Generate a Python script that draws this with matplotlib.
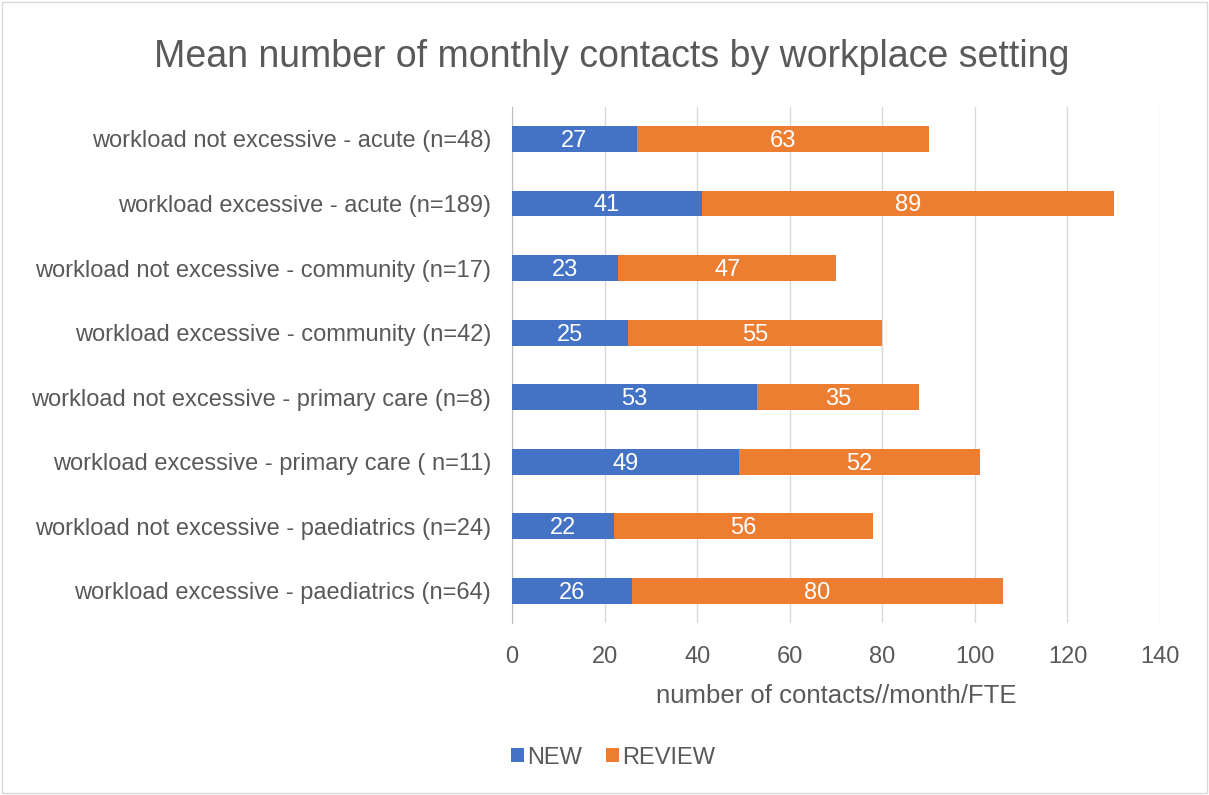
import matplotlib.pyplot as plt
from matplotlib.patches import Rectangle

plt.rcParams['font.family'] = ['Liberation Sans', 'DejaVu Sans']

categories = [
    'workload not excessive - acute (n=48)',
    'workload excessive - acute (n=189)',
    'workload not excessive - community (n=17)',
    'workload excessive - community (n=42)',
    'workload not excessive - primary care (n=8)',
    'workload excessive - primary care ( n=11)',
    'workload not excessive - paediatrics (n=24)',
    'workload excessive - paediatrics (n=64)',
]
new_vals = [27, 41, 23, 25, 53, 49, 22, 26]
review_vals = [63, 89, 47, 55, 35, 52, 56, 80]

blue = '#4472C4'
orange = '#ED7D31'
grey_txt = '#595959'

fig = plt.figure(figsize=(12.09, 7.95), dpi=100, facecolor='w')
fig.patches.append(Rectangle((0.002, 0.003), 0.996, 0.994, transform=fig.transFigure,
                             fill=False, edgecolor='#D9D9D9', linewidth=1))
ax = fig.add_axes([0.4235, 0.216, 0.536, 0.65])

ypos = list(range(len(categories)))
bh = 0.4
ax.barh(ypos, new_vals, height=bh, color=blue, label='NEW', zorder=3)
ax.barh(ypos, review_vals, left=new_vals, height=bh, color=orange, label='REVIEW', zorder=3)

for y, n, r in zip(ypos, new_vals, review_vals):
    ax.text(n / 2, y + 0.03, str(n), color='w', ha='center', va='center', fontsize=17, zorder=4)
    ax.text(n + r / 2, y + 0.03, str(r), color='w', ha='center', va='center', fontsize=17, zorder=4)

ax.set_xlim(0, 140)
ax.set_ylim(len(categories) - 0.5, -0.5)
ax.set_yticks(ypos)
ax.set_yticklabels(categories)
ax.set_xticks(range(0, 141, 20))
ax.tick_params(axis='both', length=0, labelsize=17, labelcolor=grey_txt)
ax.tick_params(axis='y', pad=15)
ax.tick_params(axis='x', pad=16)
ax.grid(axis='x', color='#D9D9D9', linewidth=1, zorder=0)
for s in ['top', 'right', 'bottom']:
    ax.spines[s].set_visible(False)
ax.spines['left'].set_color('#BFBFBF')

ax.set_xlabel('number of contacts//month/FTE', fontsize=18.5, color=grey_txt, labelpad=12)
fig.suptitle('Mean number of monthly contacts by workplace setting',
             fontsize=27, color=grey_txt, x=0.506, y=0.951)

fig.legend(loc='center', bbox_to_anchor=(0.507, 0.047), ncol=2, frameon=False,
           fontsize=17, labelcolor=grey_txt, handlelength=0.55, handleheight=0.55,
           handletextpad=0.15, columnspacing=1.0)

fig.savefig('out.png', dpi=100)
